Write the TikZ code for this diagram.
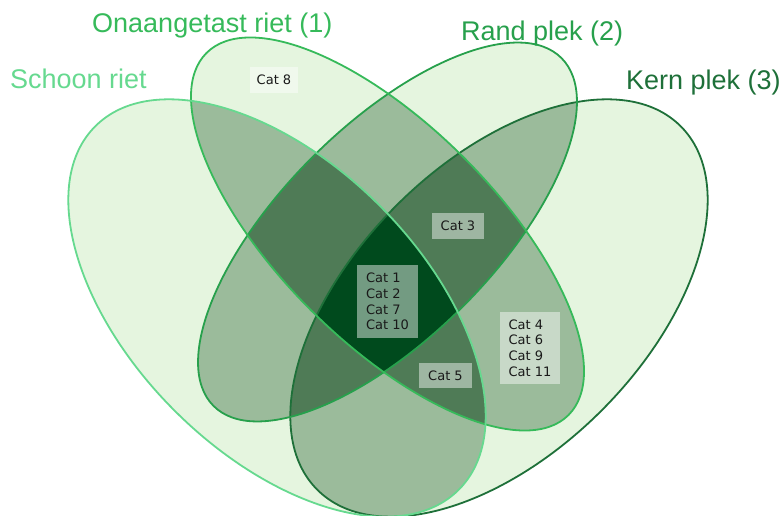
\documentclass[tikz,border=0pt]{standalone}
\usepackage{fontspec}
\setmainfont{Liberation Sans}
\newfontfamily\catfont{DejaVu Sans}
\definecolor{cone}{HTML}{E5F5DF}
\definecolor{ctwo}{HTML}{9BBB9B}
\definecolor{cthree}{HTML}{4F7B56}
\definecolor{cfour}{HTML}{004A1D}
\definecolor{colS}{HTML}{66D98F}
\definecolor{colA}{HTML}{36BA5A}
\definecolor{colB}{HTML}{27A04C}
\definecolor{colK}{HTML}{1E7039}
\newcommand\ellS{[shift={(277,207)},rotate=-45] (0,0) ellipse (257 and 145)}
\newcommand\ellK{[shift={(499,207)},rotate=45] (0,0) ellipse (257 and 145)}
\newcommand\ellA{[shift={(387.5,281)},rotate=-45] (0,0) ellipse (256 and 108)}
\newcommand\ellB{[shift={(387.5,283)},rotate=45] (0,0) ellipse (246 and 106)}
\begin{document}
\begin{tikzpicture}[x=1pt,y=1pt,
  title/.style={anchor=base west, inner sep=0pt, font=\fontsize{27}{30}\selectfont},
  catbox/.style={fill=white, fill opacity=0.45, text opacity=1, text=black!90,
    inner xsep=9pt, inner ysep=8pt, align=left,
    font=\catfont\fontsize{13}{15.6}\selectfont},
  outline/.style={line width=1.8pt}]
\useasboundingbox (0,0) rectangle (782,515);
% single regions
\fill[cone]\ellS;
\fill[cone]\ellK;
\fill[cone]\ellA;
\fill[cone]\ellB;
% pairs
\begin{scope}\clip\ellS; \fill[ctwo]\ellK; \fill[ctwo]\ellA; \fill[ctwo]\ellB; \end{scope}
\begin{scope}\clip\ellK; \fill[ctwo]\ellA; \fill[ctwo]\ellB; \end{scope}
\begin{scope}\clip\ellA; \fill[ctwo]\ellB; \end{scope}
% triples
\begin{scope}\clip\ellS; \clip\ellK; \fill[cthree]\ellA; \fill[cthree]\ellB; \end{scope}
\begin{scope}\clip\ellS; \clip\ellA; \fill[cthree]\ellB; \end{scope}
\begin{scope}\clip\ellK; \clip\ellA; \fill[cthree]\ellB; \end{scope}
% quadruple
\begin{scope}\clip\ellS; \clip\ellK; \clip\ellA; \fill[cfour]\ellB; \end{scope}
% outlines
\draw[outline, colK]\ellK;
\draw[outline, colB]\ellB;
\draw[outline, colA]\ellA;
\draw[outline, colS]\ellS;
% titles
\node[title, text=colA] (tA) at (92,482.7) {Onaangetast riet (1)};
\node[title, text=colB] (tB) at (461,474) {Rand plek (2)};
\node[title, text=colS] (tS) at (10,426) {Schoon riet};
\node[title, text=colK] (tK) at (626,425) {Kern plek (3)};
% category labels
\node[catbox, inner xsep=7pt] (c8) at (274,435) {Cat 8};
\node[catbox] (c3) at (458,289) {Cat 3};
\node[catbox] (c1) at (387.5,213.5) {Cat 1\\Cat 2\\Cat 7\\Cat 10};
\node[catbox] (c5) at (445.5,139.5) {Cat 5};
\node[catbox] (c4) at (530,167) {Cat 4\\Cat 6\\Cat 9\\Cat 11};
\end{tikzpicture}
\end{document}
